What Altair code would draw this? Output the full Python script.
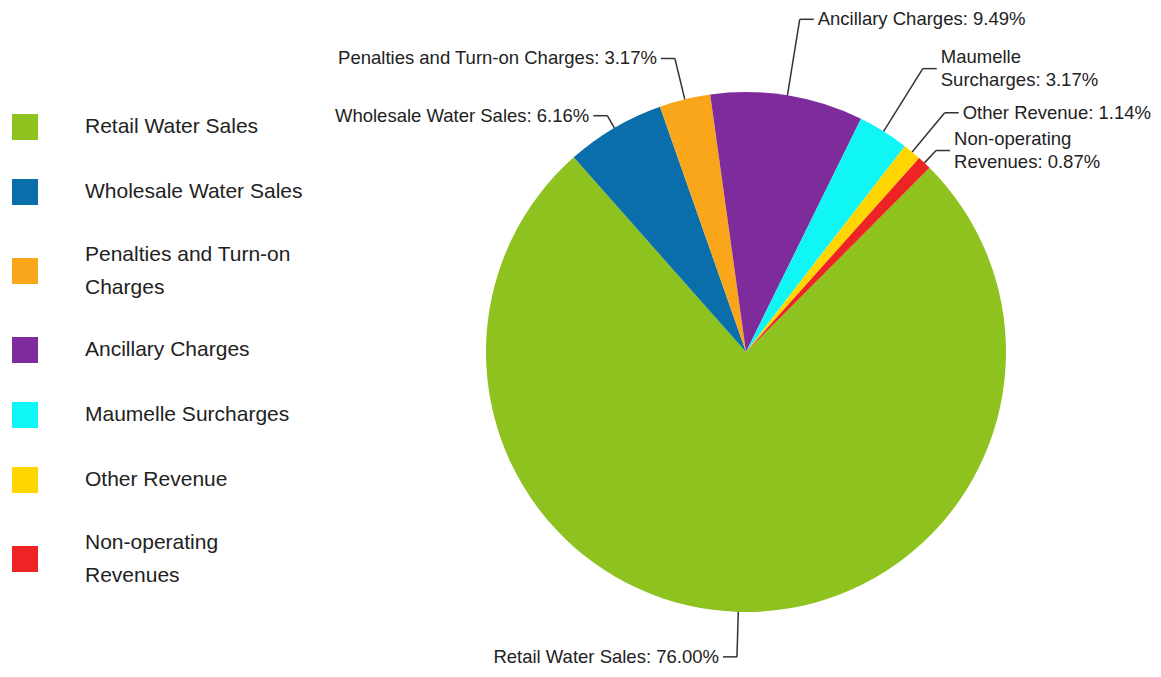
import math
import altair as alt
import pandas as pd

# ---------------- data ----------------
categories = [
    "Retail Water Sales",
    "Wholesale Water Sales",
    "Penalties and Turn-on Charges",
    "Ancillary Charges",
    "Maumelle Surcharges",
    "Other Revenue",
    "Non-operating Revenues",
]
shares = [76.00, 6.16, 3.17, 9.49, 3.17, 1.14, 0.87]
# clockwise drawing order of the slices
pie_order = [6, 0, 1, 2, 3, 4, 5]
# wrapped names ("|" = line break)
pie_label_names = [
    "Retail Water Sales",
    "Wholesale Water Sales",
    "Penalties and Turn-on Charges",
    "Ancillary Charges",
    "Maumelle|Surcharges",
    "Other Revenue",
    "Non-operating|Revenues",
]
legend_label_names = [
    "Retail Water Sales",
    "Wholesale Water Sales",
    "Penalties and Turn-on|Charges",
    "Ancillary Charges",
    "Maumelle Surcharges",
    "Other Revenue",
    "Non-operating|Revenues",
]
colors = ["#8DC21F", "#0A6EAA", "#FAA61A", "#7E2B9C", "#10F5F5", "#FFD600", "#EE2424"]

# ---------------- layout (style) ----------------
W, H = 1145, 660
CX, CY = 738, 344          # pie centre inside plot area
R = 260                    # pie radius
START = math.radians(-41.5)
LABEL_LH = 23
leader_r = {
    "Retail Water Sales": 305,
    "Wholesale Water Sales": 274,
    "Penalties and Turn-on Charges": 302,
    "Ancillary Charges": 337,
    "Maumelle Surcharges": 334,
    "Other Revenue": 311,
    "Non-operating Revenues": 277,
}
TICK = 14
GAP = 4

df = pd.DataFrame({
    "category": categories,
    "share": shares,
    "ord": pie_order,
    "pname": pie_label_names,
})

leader_expr = ""
for k, v in leader_r.items():
    leader_expr += f"datum.category == '{k}' ? {v} : "
leader_expr += "300"

legend_expr = ""
for c, l in zip(categories, legend_label_names):
    legend_expr += f"datum.label == '{c}' ? split('{l}', '|') : "
legend_expr += "datum.label"

multi = [c for c, l in zip(categories, legend_label_names) if "|" in l]
baseline_expr = " || ".join(f"datum.label == '{c}'" for c in multi)
baseline_expr = f"({baseline_expr}) ? 'line-bottom' : 'middle'"

xs = alt.Scale(domain=[-CX, W - CX], nice=False, zero=False)
ys = alt.Scale(domain=[-(H - CY), CY], nice=False, zero=False)

base = (
    alt.Chart(df)
    .transform_window(cum="sum(share)", sort=[alt.SortField("ord")], frame=[None, 0])
    .transform_joinaggregate(total="sum(share)")
    .transform_calculate(
        mid=f"{START} + 2*PI*(datum.cum - datum.share/2)/datum.total",
        cx="0",
        cy="0",
        rl=leader_expr,
        ptext="split(datum.pname + ': ' + format(datum.share, '.2f') + '%', '|')",
    )
    .transform_calculate(
        x0=f"{R}*sin(datum.mid)",
        y0=f"{R}*cos(datum.mid)",
        x1="datum.rl*sin(datum.mid)",
        y1="datum.rl*cos(datum.mid)",
        side="sin(datum.mid) >= 0 ? 1 : -1",
    )
    .transform_calculate(
        x2=f"datum.x1 + datum.side*{TICK}",
        xt=f"datum.x1 + datum.side*{TICK + GAP}",
        yt=f"datum.y1 + (length(datum.ptext) - 1)*{LABEL_LH}/2",
    )
)

arc = base.mark_arc(radius=R).encode(
    theta=alt.Theta("share:Q", stack=True,
                    scale=alt.Scale(range=[START, START + 2 * math.pi])),
    color=alt.Color(
        "category:N",
        scale=alt.Scale(domain=categories, range=colors),
        legend=alt.Legend(
            title=None,
            orient="none",
            legendX=4,
            legendY=106,
            symbolType="square",
            symbolSize=676,
            symbolStrokeWidth=0,
            symbolOpacity=1,
            labelFontSize=21,
            labelFont="Liberation Sans",
            labelColor="#222222",
            labelOffset=47,
            labelLimit=400,
            rowPadding=39,
            padding=0,
            labelExpr=legend_expr,
            labelBaseline=alt.ExprRef(expr=baseline_expr),
        ),
    ),
    order=alt.Order("ord:Q"),
    x=alt.X("cx:Q", scale=xs, axis=None),
    y=alt.Y("cy:Q", scale=ys, axis=None),
)

radial = base.mark_rule(color="#333333", strokeWidth=1.5).encode(
    x=alt.X("x0:Q", scale=xs, axis=None),
    y=alt.Y("y0:Q", scale=ys, axis=None),
    x2="x1:Q",
    y2="y1:Q",
)

horiz = base.mark_rule(color="#333333", strokeWidth=1.5).encode(
    x=alt.X("x1:Q", scale=xs, axis=None),
    y=alt.Y("y1:Q", scale=ys, axis=None),
    x2="x2:Q",
    y2="y1:Q",
)

text_props = dict(baseline="middle", fontSize=18.5, font="Liberation Sans",
                  lineHeight=LABEL_LH, color="#222222")

right_text = base.transform_filter("datum.side > 0").mark_text(align="left", **text_props).encode(
    x=alt.X("xt:Q", scale=xs, axis=None),
    y=alt.Y("yt:Q", scale=ys, axis=None),
    text="ptext:N",
)
left_text = base.transform_filter("datum.side < 0").mark_text(align="right", **text_props).encode(
    x=alt.X("xt:Q", scale=xs, axis=None),
    y=alt.Y("yt:Q", scale=ys, axis=None),
    text="ptext:N",
)

chart = (
    alt.layer(arc, radial, horiz, right_text, left_text)
    .properties(width=W, height=H, autosize=alt.AutoSizeParams(type="none"), padding=0)
    .configure(style={"guide-label": {"lineHeight": 33}})
    .configure_view(stroke=None)
)

chart.save("out.html", embed_options={"renderer": "svg", "actions": False})
